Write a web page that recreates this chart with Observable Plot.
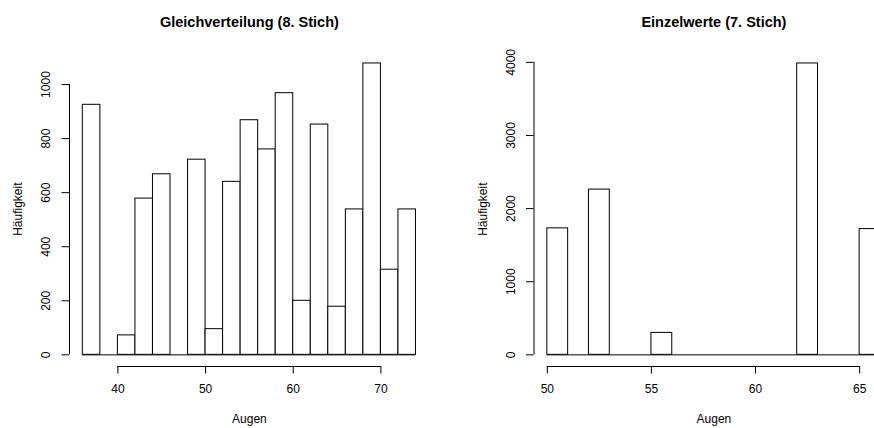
<!DOCTYPE html>
<html><head><meta charset="utf-8">
<script src="https://cdn.jsdelivr.net/npm/d3@7"></script>
<script src="https://cdn.jsdelivr.net/npm/@observablehq/plot@0.6"></script>
<style>
html,body{margin:0;padding:0;background:#fff;overflow:hidden;}
#wrap{position:relative;width:874px;height:428px;overflow:hidden;background:#fff;}
#wrap > div{position:absolute;top:0;}
</style></head><body>
<div id="wrap"><div id="left" style="left:0"></div><div id="right" style="left:437px"></div></div>
<script>
// ---- data ----
const xLabel = "Augen";
const yLabel = "Häufigkeit";

const leftTitle = "Gleichverteilung (8. Stich)";
const leftBreaks = [36, 38, 40, 42, 44, 46, 48, 50, 52, 54, 56, 58, 60, 62, 64, 66, 68, 70, 72, 74];
const leftCounts = [925, 0, 72, 578, 668, 0, 722, 95, 640, 868, 760, 968, 200, 852, 178, 538, 1078, 315, 538];
const leftXTicks = [40, 50, 60, 70];
const leftYTicks = [0, 200, 400, 600, 800, 1000];

const rightTitle = "Einzelwerte (7. Stich)";
const rightBreaks = [50, 51, 52, 53, 54, 55, 56, 57, 58, 59, 60, 61, 62, 63, 64, 65, 66];
const rightCounts = [1730, 0, 2260, 0, 0, 300, 0, 0, 0, 0, 0, 0, 3985, 0, 0, 1720];
const rightXTicks = [50, 55, 60, 65];
const rightYTicks = [0, 1000, 2000, 3000, 4000];

// ---- chart ----
function expand([a, b]) { const d = (b - a) * 0.04; return [a - d, b + d]; }
const fmt = d => String(d);

function hist({title, breaks, counts, xTicks, yTicks, width, marginLeft, marginRight}) {
  const bins = counts.map((c, i) => ({x1: breaks[i], x2: breaks[i + 1], count: c}));
  const xDom = expand([breaks[0], breaks[breaks.length - 1]]);
  const yDom = expand([0, d3.max(counts)]);
  return Plot.plot({
    width, height: 428, marginLeft, marginRight, marginTop: 51.3, marginBottom: 62,
    style: {fontFamily: "'Liberation Sans', Arial, Helvetica, sans-serif", fontSize: "12px", background: "white", color: "black", maxWidth: "none"},
    x: {domain: xDom},
    y: {domain: yDom},
    marks: [
      Plot.ruleY([0], {x1: breaks[0], x2: breaks[breaks.length - 1], stroke: "black"}),
      Plot.rect(bins, {x1: "x1", x2: "x2", y1: 0, y2: "count", fill: "white", stroke: "black"}),
      Plot.ruleX([xDom[0]], {y1: yTicks[0], y2: yTicks[yTicks.length - 1], stroke: "black"}),
      Plot.ruleY([yDom[0]], {x1: xTicks[0], x2: xTicks[xTicks.length - 1], stroke: "black"}),
      Plot.axisX({ticks: xTicks, tickSize: 7.5, tickPadding: 10, tickFormat: fmt, label: null}),
      Plot.axisY({ticks: yTicks, tickSize: 7.5, tickPadding: 11.8, tickRotate: -90, tickFormat: fmt, label: null}),
      Plot.text([title], {text: d => d, frameAnchor: "top", dy: -29.3, textAnchor: "middle", lineAnchor: "middle", fontSize: 14.5, fontWeight: "bold", fill: "black"}),
      Plot.text([xLabel], {text: d => d, frameAnchor: "bottom", dy: 53, textAnchor: "middle", lineAnchor: "middle", fill: "black"}),
      Plot.text([yLabel], {text: d => d, frameAnchor: "left", dx: -51, rotate: -90, textAnchor: "middle", lineAnchor: "middle", fill: "black"})
    ]
  });
}

document.getElementById("left").append(hist({
  title: leftTitle, breaks: leftBreaks, counts: leftCounts, xTicks: leftXTicks, yTicks: leftYTicks,
  width: 437, marginLeft: 69, marginRight: 8.2
}));
document.getElementById("right").append(hist({
  title: rightTitle, breaks: rightBreaks, counts: rightCounts, xTicks: rightXTicks, yTicks: rightYTicks,
  width: 474, marginLeft: 96.5, marginRight: 17.7
}));
</script>
</body></html>
